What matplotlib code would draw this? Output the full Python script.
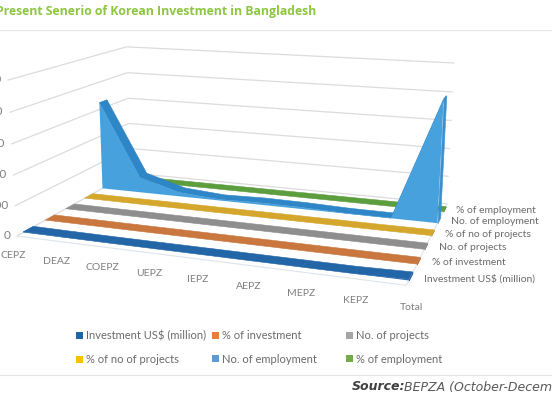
import numpy as np
import matplotlib.pyplot as plt
from matplotlib.patches import Patch
from matplotlib.transforms import ScaledTranslation
from mpl_toolkits.mplot3d.art3d import Poly3DCollection, Line3DCollection
from mpl_toolkits.mplot3d import proj3d

# ---------------- data ----------------
zones = ["CEPZ", "DEAZ", "COEPZ", "UEPZ", "IEPZ", "AEPZ", "MEPZ", "KEPZ", "Total"]
series_names = ["Investment US$ (million)", "% of investment", "No. of projects",
                "% of no of projects", "No. of employment", "% of employment"]

investment = [410, 180, 60, 25, 40, 20, 8, 5, 748]
pct_investment = [54.8, 24.1, 8.0, 3.3, 5.3, 2.7, 1.1, 0.7, 100]
projects = [20, 9, 4, 2, 3, 2, 1, 1, 42]
pct_projects = [47.6, 21.4, 9.5, 4.8, 7.1, 4.8, 2.4, 2.4, 100]
employment = [65000, 11500, 3000, 800, 1500, 1200, 300, 200, 83500]
pct_employment = [77.8, 13.8, 3.6, 1.0, 1.8, 1.4, 0.4, 0.2, 100]

z_ticks = [0, 20000, 40000, 60000, 80000, 100000]

# ---------------- style ----------------
legend_cols = ["#2264A8", "#EE7D31", "#A5A5A5", "#FFC000", "#5B9BD5", "#70AD47"]
top_cols = ["#2366A8", "#C9773F", "#8E8E8E", "#D4A72C", "#2F86C6", "#5C9E3E"]
front_cols = ["#2A6EB3", "#D07F45", "#9A9A9A", "#DDB035", "#47A1DC", "#66A845"]
side_cols = ["#1F5C98", "#B86A35", "#808080", "#C09624", "#3A90CF", "#558F38"]

plt.rcParams["font.family"] = ["Lato", "DejaVu Sans"]

W, H = 552, 400
fig = plt.figure(figsize=(W / 100, H / 100), dpi=100)

S = 400.0
L, B = 60.0, 0.0
ax = fig.add_axes([L / W, B / H, S / W, S / H], projection="3d")
ax.set_xlim(0, 8)
ax.set_ylim(-0.5, 5.5)
ax.set_zlim(0, 100000)
ax.set_axis_off()
ax.computed_zorder = False

xs = list(range(len(zones)))
xmax = xs[-1]
ztop = z_ticks[-1]
h = 0.22
grid_c = "#DCDCDC"

# walls gridlines
segs = []
for z in z_ticks:
    segs.append([(0, -0.5, z), (0, 5.5, z)])
    segs.append([(0, 5.5, z), (xmax, 5.5, z)])
ax.add_collection3d(Line3DCollection(segs, colors=grid_c, linewidths=0.9, zorder=1))
ax.add_collection3d(Line3DCollection([[(0, -0.5, 0), (xmax, -0.5, 0)],
                                      [(xmax, -0.5, 0), (xmax, 5.5, 0)]],
                                     colors="#DDE4EC", linewidths=0.8, zorder=1))

all_series = [investment, pct_investment, projects, pct_projects, employment, pct_employment]

for j in range(len(all_series) - 1, -1, -1):
    vals = all_series[j]
    y0, y1 = j - h, j + h
    zo = 10 + (len(all_series) - j) * 3
    tops = []
    for i in range(len(vals) - 1):
        tops.append([(xs[i], y0, vals[i]), (xs[i + 1], y0, vals[i + 1]),
                     (xs[i + 1], y1, vals[i + 1]), (xs[i], y1, vals[i])])
    ax.add_collection3d(Poly3DCollection(tops, facecolors=top_cols[j], edgecolors=top_cols[j],
                                         linewidths=0.4, zorder=zo))
    side = [[(xmax, y0, 0), (xmax, y1, 0), (xmax, y1, vals[-1]), (xmax, y0, vals[-1])]]
    ax.add_collection3d(Poly3DCollection(side, facecolors=side_cols[j], edgecolors=side_cols[j],
                                         linewidths=0.4, zorder=zo + 1))
    front = [(x, y0, v) for x, v in zip(xs, vals)] + [(xmax, y0, 0), (0, y0, 0)]
    ax.add_collection3d(Poly3DCollection([front], facecolors=front_cols[j], edgecolors="none",
                                         zorder=zo + 2))

# labels (category ones nudged a few pixels right/down on screen)
nudge = ax.transData + ScaledTranslation(11 / 100, -7 / 100, fig.dpi_scale_trans)
for x, name in zip(xs, zones):
    ax.text(x, -1.1, 0, name, color="#7F7F7F", fontsize=7.5, ha="center", va="top",
            zorder=40, transform=nudge)
for j, name in enumerate(series_names):
    ax.text(xmax + 0.25, j, 0, name, color="#6B6B6B", fontsize=7.5, ha="left", va="center", zorder=40)
for z in z_ticks:
    ax.text(-0.15, -0.5, z, f"{z}", color="#7F7F7F", fontsize=8.5, ha="right", va="center", zorder=40)

# ---- fit the camera so the box corners sit where the reference has them ----
fig.canvas.draw()
box_pts = np.array([(0, 0, 0), (xmax, 0, 0), (0, 3, 0), (xmax, 3, 0),
                    (0, 5.5, ztop), (xmax, 5.5, ztop), (0, -0.5, ztop),
                    (0, 5.5, 0), (xmax, 5.5, 0), (0, -0.5, 0)], dtype=float)
box_px = np.array([(28, 231), (412, 277), (90, 196), (430, 233),
                   (128, 47), (455, 63), (10, 80),
                   (128, 172), (448, 204), (14, 235)], dtype=float)
box_px[:, 1] = H - box_px[:, 1]


def fit(p):
    ax.view_init(elev=p[0], azim=p[1])
    ax.set_proj_type("persp", focal_length=p[2])
    ax.set_box_aspect((3.0, p[3], p[4]))
    px, py, _ = proj3d.proj_transform(box_pts[:, 0], box_pts[:, 1], box_pts[:, 2], ax.get_proj())
    P = ax.transData.transform(np.c_[px, py])
    Pc = P - P.mean(0)
    Tc = box_px - box_px.mean(0)
    s = (Pc * Tc).sum() / (Pc * Pc).sum()
    return ((s * Pc - Tc) ** 2).sum(), s, box_px.mean(0) - s * P.mean(0)


par = np.array([18.0, -65.0, 0.35, 2.0, 1.2])
step = np.array([4.0, 6.0, 0.1, 0.5, 0.3])
best = fit(par)[0]
for _ in range(60):
    moved = False
    for k in range(5):
        for sg in (1, -1):
            tr = par.copy()
            tr[k] += sg * step[k]
            if tr[2] < 0.08 or tr[3] < 0.3 or tr[4] < 0.3:
                continue
            e = fit(tr)[0]
            if e < best:
                best, par, moved = e, tr, True
    if not moved:
        step *= 0.5
_, s, t = fit(par)
ax.set_position([(t[0] + s * L) / W, (t[1] + s * B) / H, s * S / W, s * S / H])

# ---- title, rules, legend, source ----
fig.text(-4 / W, 1 - 12 / H, "Present Senerio of Korean Investment in Bangladesh",
         color="#8DC63F", fontsize=8.8, fontweight="bold", family="Open Sans", ha="left", va="center")
fig.add_artist(plt.Line2D([0, 1], [1 - 30 / H, 1 - 30 / H], color="#E6E6E6", lw=0.8))
fig.add_artist(plt.Line2D([0, 1], [1 - 375 / H, 1 - 375 / H], color="#E6E6E6", lw=0.8))

handles = [Patch(facecolor=c, edgecolor="none") for c in legend_cols]
col_x = [76, 212, 346]
for k in range(3):
    idx = [k, k + 3]
    fig.legend([handles[i] for i in idx], [series_names[i] for i in idx],
               loc="upper left", bbox_to_anchor=(col_x[k] / W, 1 - 330 / H),
               frameon=False, fontsize=8, handlelength=0.6, handleheight=0.6,
               handletextpad=0.3, labelspacing=1.15, borderpad=0, borderaxespad=0,
               labelcolor="#6B6B6B")

fig.text(352 / W, 1 - 387 / H, "Source:", fontsize=9, color="#3F3F3F", style="italic",
         fontweight="bold", family="DejaVu Sans", ha="left", va="center")
fig.text(404 / W, 1 - 387 / H, "BEPZA (October-December 2018)", fontsize=9,
         color="#595959", style="italic", family="DejaVu Sans", ha="left", va="center")

fig.savefig("out.png", dpi=100)
